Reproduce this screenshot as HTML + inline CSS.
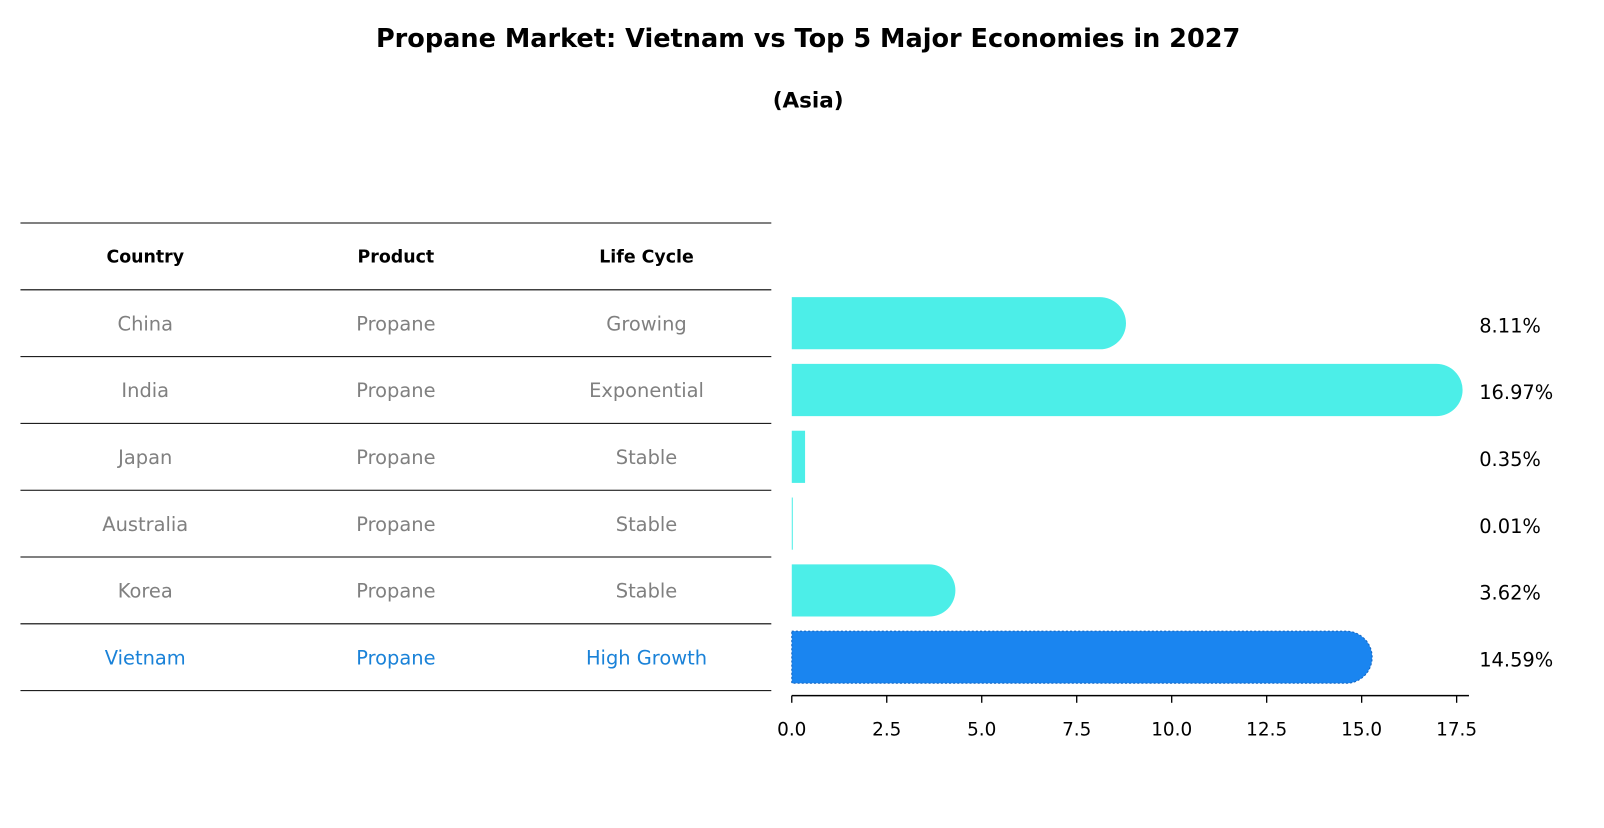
<!DOCTYPE html>
<html><head><meta charset="utf-8"><style>
body{margin:0;background:#fff;font-family:"Liberation Sans","DejaVu Sans",sans-serif}
svg text{font-family:"DejaVu Sans","Liberation Sans",sans-serif}
</style></head><body>
<svg width="1604" height="823" viewBox="0 0 1568 804.5" xmlns="http://www.w3.org/2000/svg">
<text x="790" y="46" text-anchor="middle" font-size="25" font-weight="bold">Propane Market: Vietnam vs Top 5 Major Economies in 2027</text>
<text x="790" y="105" text-anchor="middle" font-size="21" font-weight="bold">(Asia)</text>
<g id="table"></g>
<g id="bars"></g>
<g id="axis"></g>
</svg>
<script>
const countries=["China","India","Japan","Australia","Korea","Vietnam"];
const products=["Propane","Propane","Propane","Propane","Propane","Propane"];
const lifecycles=["Growing","Exponential","Stable","Stable","Stable","High Growth"];
const values=[8.11,16.97,0.35,0.01,3.62,14.59];
const ticks=[0,2.5,5,7.5,10,12.5,15,17.5];
const NS="http://www.w3.org/2000/svg";
function mk(tag,attrs,parent){const e=document.createElementNS(NS,tag);for(const k in attrs)e.setAttribute(k,attrs[k]);parent.appendChild(e);return e;}
const x0=774,xs=37.14;
function X(v){return x0+v*xs;}
const rowTop=218,rowH=65.3;
function Yc(i){return rowTop+rowH*(i+1.5);}
const tbl=document.getElementById('table');
for(let i=0;i<=7;i++){const y=rowTop+i*rowH;
const l=mk('line',{x1:20,x2:754,y1:y,y2:y,stroke:'#000','stroke-width':1},tbl);

}
const colX=[142,387,632];
["Country","Product","Life Cycle"].forEach((h,j)=>{
const t=mk('text',{x:colX[j],y:rowTop+rowH/2+6,'text-anchor':'middle','font-size':17,'font-weight':'bold'},tbl);
t.textContent=h;

});
countries.forEach((c,i)=>{
const col=i===5?'#1a82d8':'#808080';
[c,products[i],lifecycles[i]].forEach((v,j)=>{
const t=mk('text',{x:colX[j],y:Yc(i)+7,'text-anchor':'middle','font-size':19,fill:col},tbl);
t.textContent=v;

});});
const bars=document.getElementById('bars');
const bh=51,r=25.5;
values.forEach((v,i)=>{
const yc=Yc(i),fill=i===5?'#1a85f0':'#4ceee8';
let p;
if(v>1){const xe=X(v);
p=mk('path',{d:`M${x0},${yc-bh/2}H${xe}A${r},${r} 0 0 1 ${xe},${yc+bh/2}H${x0}Z`,fill:fill},bars);
if(i===5){p.setAttribute('stroke','#1565c0');p.setAttribute('stroke-dasharray','2,2');p.setAttribute('stroke-width','1');}
}else{p=mk('rect',{x:x0,y:yc-bh/2,width:Math.max(1,v*xs),height:bh,fill:fill},bars);}


const t=mk('text',{x:1446,y:yc+9,'font-size':19},bars);
t.textContent=v.toFixed(2)+'%';

});
const ax=document.getElementById('axis');
const al=mk('line',{x1:x0,x2:1436,y1:680,y2:680,stroke:'#000','stroke-width':1.5},ax);


ticks.forEach(t=>{
const tl=mk('line',{x1:X(t),x2:X(t),y1:680,y2:687,stroke:'#000','stroke-width':1.3},ax);


const tx=mk('text',{x:X(t),y:719,'text-anchor':'middle','font-size':18},ax);
tx.textContent=t.toFixed(1);

});
</script>
</body></html>
